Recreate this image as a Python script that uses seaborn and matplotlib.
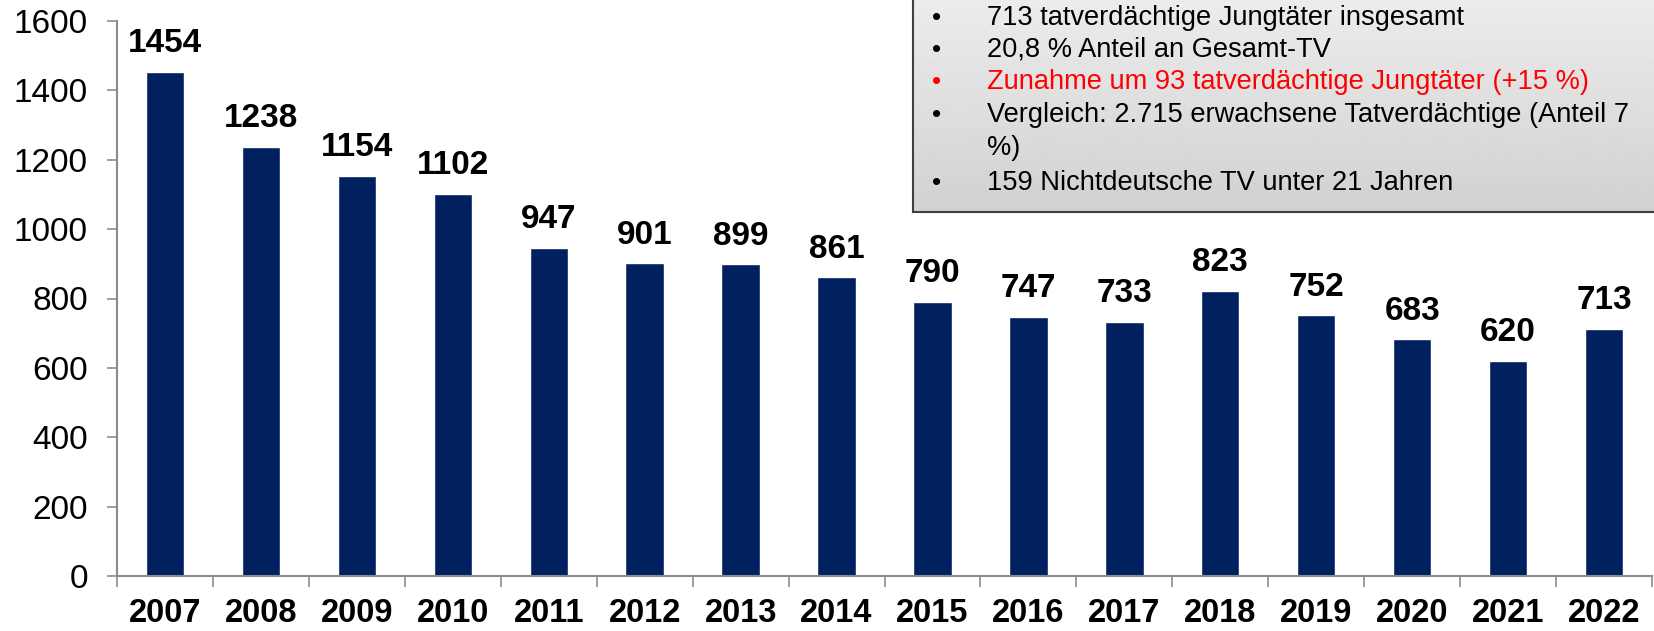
import numpy as np
import pandas as pd
import matplotlib
matplotlib.use("Agg")
import matplotlib.pyplot as plt
import seaborn as sns

# Tatverdächtige Jungtäter pro Jahr
years = ["2007", "2008", "2009", "2010", "2011", "2012", "2013", "2014",
         "2015", "2016", "2017", "2018", "2019", "2020", "2021", "2022"]
suspects = [1454, 1238, 1154, 1102, 947, 901, 899, 861,
            790, 747, 733, 823, 752, 683, 620, 713]

# Textbox contents (line 4 is cut at the right edge in the original)
box_lines = [
    "713 tatverdächtige Jungtäter insgesamt",
    "20,8 % Anteil an Gesamt-TV",
    "Zunahme um 93 tatverdächtige Jungtäter (+15 %)",
    "Vergleich: 2.715 erwachsene Tatverdächtige (Anteil 7",
    "159 Nichtdeutsche TV unter 21 Jahren",
]
box_colors = ["black", "black", "red", "black", "black"]

df = pd.DataFrame({"year": years, "suspects": suspects})

sns.set_style("white")
plt.rcParams["font.family"] = ["Liberation Sans", "DejaVu Sans"]
plt.rcParams["text.color"] = "black"
plt.rcParams["xtick.color"] = "black"
plt.rcParams["ytick.color"] = "black"

W, H = 1654, 631
fig = plt.figure(figsize=(W / 100, H / 100), dpi=100)
ax = fig.add_axes([117 / W, 1 - 576 / H, 1535 / W, 555 / H])

sns.barplot(data=df, x="year", y="suspects", color="#002060", width=0.4,
            saturation=1, ax=ax)

ax.set_ylim(0, 1600)
ax.set_xlim(-0.5, len(years) - 0.5)
ax.set_yticks(range(0, 1601, 200))
ax.set_xlabel("")
ax.set_ylabel("")

# value labels on top of the bars
ax.bar_label(ax.containers[0], labels=[str(v) for v in suspects], padding=9,
             fontsize=24, fontweight="bold", color="black")

# axis styling
for side in ["top", "right"]:
    ax.spines[side].set_visible(False)
for side in ["left", "bottom"]:
    ax.spines[side].set_color("#8c8c8c")
    ax.spines[side].set_linewidth(1.5)

ax.tick_params(axis="y", which="major", direction="out", length=7, width=1.2,
               color="#8c8c8c", labelcolor="black", labelsize=24, pad=14, left=True)
ax.tick_params(axis="x", which="major", length=0, labelsize=23.5, pad=16,
               labelcolor="black")
for lbl in ax.get_xticklabels():
    lbl.set_fontweight("bold")
ax.set_xticks(np.arange(-0.5, len(years), 1.0), minor=True)
ax.tick_params(axis="x", which="minor", direction="out", length=8, width=1.2,
               color="#8c8c8c", bottom=True)

# info box with gray gradient (top part cut off by figure edge)
bx0, by0 = 913, 212
box_ax = fig.add_axes([bx0 / W, 1 - by0 / H, (W - bx0 + 20) / W, (by0 + 10) / H])
grad = np.linspace(0.93, 0.82, 100).reshape(-1, 1)
box_ax.imshow(grad, aspect="auto", cmap="gray", vmin=0, vmax=1,
              extent=[0, 1, 0, 1], origin="upper")
box_ax.set_xlim(0, 1)
box_ax.set_ylim(0, 1)
box_ax.set_xticks([])
box_ax.set_yticks([])
for side in box_ax.spines.values():
    side.set_color("#404040")
    side.set_linewidth(1.5)

# text lines in pixel rows
rows = [18, 50, 82, 115, 183]
for y, txt, c in zip(rows, box_lines, box_colors):
    fig.text(937 / W, 1 - y / H, "•", fontsize=19, color=c, ha="center", va="center")
    fig.text(987 / W, 1 - y / H, txt, fontsize=19.6, color=c, ha="left", va="center")
fig.text(987 / W, 1 - 148 / H, "%)", fontsize=19.6, color="black", ha="left", va="center")

fig.savefig("out.png", dpi=100)
